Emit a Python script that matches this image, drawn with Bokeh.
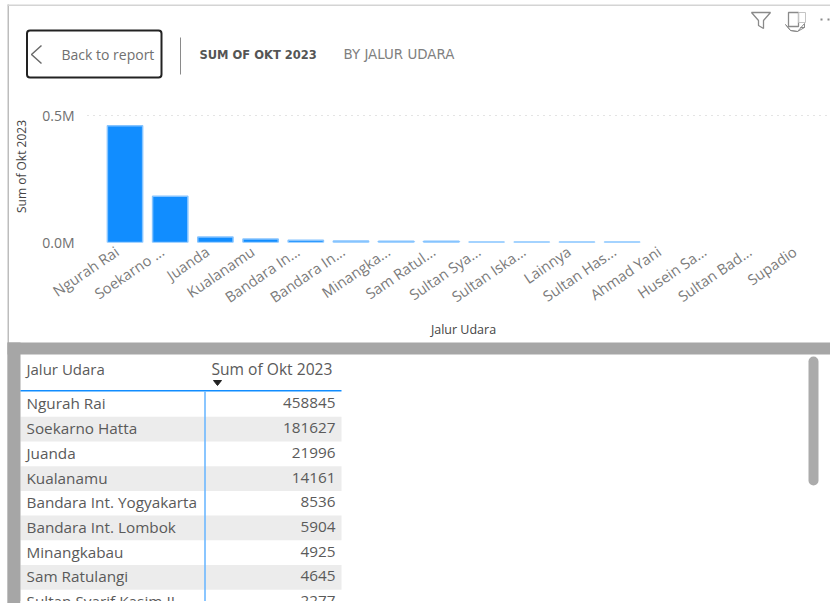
from bokeh.embed import file_html
from bokeh.layouts import column
from bokeh.models import (BoxAnnotation, ColumnDataSource, FixedTicker, Label, PolyAnnotation,
                          Range1d)
from bokeh.core.properties import value
from bokeh.plotting import figure
from bokeh.resources import INLINE

# Airports by October 2023 traffic, largest first
airports = ["Ngurah Rai", "Soekarno Hatta", "Juanda", "Kualanamu", "Bandara Int. Yogyakarta",
            "Bandara Int. Lombok", "Minangkabau", "Sam Ratulangi", "Sultan Syarif Kasim II",
            "Sultan Iskandar Muda", "Lainnya", "Sultan Hasanuddin", "Ahmad Yani",
            "Husein Sastranegara", "Sultan Badaruddin II", "Supadio"]
short_labels = ["Ngurah Rai", "Soekarno ...", "Juanda", "Kualanamu", "Bandara In...", "Bandara In...",
                "Minangka...", "Sam Ratul...", "Sultan Sya...", "Sultan Iska...", "Lainnya",
                "Sultan Has...", "Ahmad Yani", "Husein Sa...", "Sultan Bad...", "Supadio"]
okt_2023 = [458845, 181627, 21996, 14161, 8536, 5904, 4925, 4645, 2277, 2100, 1900, 1700, 0, 0, 0, 0]
table_rows = 9
y_ticks = [0, 500000]
y_tick_labels = {0: "0.0M", 500000: "0.5M"}

BLUE = "#118dff"
BAND = "#a6a6a6"
MUTED = "#707070"
BODY = "Open Sans"
LABEL_SHIFT = 0.18  # rotated category labels sit slightly left of their column


def canvas_label(fig, x, y, text, size, color, font=BODY, style="normal", align="left"):
    fig.add_layout(Label(x=x, y=y, x_units="canvas", y_units="canvas", text=text,
                         text_font=font, text_font_size=size, text_color=color,
                         text_font_style=style, text_align=align, text_baseline="middle"))


def canvas_line(fig, xs, ys, color, width, fill=None):
    fig.add_layout(PolyAnnotation(xs=xs, ys=ys, xs_units="canvas", ys_units="canvas",
                                  fill_color=fill, fill_alpha=1 if fill else 0,
                                  line_color=color, line_alpha=1, line_width=width))


def canvas_box(fig, left, right, top, bottom, fill, line=None, width=1, radius=0):
    fig.add_layout(BoxAnnotation(left=left, right=right, top=top, bottom=bottom,
                                 left_units="canvas", right_units="canvas",
                                 top_units="canvas", bottom_units="canvas",
                                 fill_color=fill, fill_alpha=1, line_color=line, line_alpha=1,
                                 line_width=width, border_radius=radius))


# Report page: header, divider bands and the detail table, with one vertical unit per table row
rows = list(range(table_rows))
sheet = figure(width=830, height=603, output_backend="svg", toolbar_location=None,
               x_range=Range1d(0, 830), y_range=Range1d(8.06, -16.36), frame_align=False,
               min_border=0, outline_line_color=None, background_fill_color="white")
sheet.xaxis.visible = False
sheet.yaxis.visible = False
sheet.grid.visible = False

stripes = [r for r in rows if r % 2 == 1]
sheet.hbar(y=stripes, left=20, right=341, height=1.0, fill_color="#ececec", line_color=None)
sheet.text(x=[26] * table_rows, y=rows, y_offset=-1, text=airports[:table_rows], text_font=value(BODY),
           text_font_size="15.3px", text_color="#5a5a5a", text_baseline="middle")
sheet.text(x=[335] * table_rows, y=rows, y_offset=-1, text=[str(v) for v in okt_2023[:table_rows]],
           text_font=value(BODY), text_font_size="15.3px", text_color="#5a5a5a",
           text_align="right", text_baseline="middle")

# Page frame and bands
canvas_box(sheet, 7, 8.5, 603, 4, "#bdbdbd")
canvas_box(sheet, 7, 830, 5.5, 4, "#d4d4d4")
canvas_box(sheet, 7, 830, 354, 342, BAND)
canvas_box(sheet, 7, 20, 603, 342, BAND)
canvas_box(sheet, 20, 830, 603, 600.5, "white")

# Table header and rules
canvas_label(sheet, 26, 368, "Jalur Udara", "15px", "#5a5a5a")
canvas_label(sheet, 211, 368, "Sum of Okt 2023", "15.6px", "#5a5a5a")
canvas_line(sheet, [213, 221, 217, 213], [380, 380, 385, 380], "#222222", 1, fill="#222222")
canvas_box(sheet, 20, 341, 391, 389.5, BLUE)
canvas_box(sheet, 203.7, 205.3, 600.5, 391, "#6db8ff")
canvas_box(sheet, 808, 818, 485, 356, "#ababab", radius=5)

# Report header
canvas_box(sheet, 26.5, 161, 77, 30, "white", line="#222222", width=2, radius=3)
canvas_line(sheet, [41, 31, 41, 31], [45, 54, 63, 54], "#6a6a6a", 1.5)
canvas_label(sheet, 61, 54, "Back to report", "14px", MUTED)
canvas_box(sheet, 179.5, 180.5, 74, 37, "#8a8a8a")
canvas_label(sheet, 199, 54, "SUM OF OKT 2023", "11.5px", "#555555", font="DejaVu Sans", style="bold")
canvas_label(sheet, 343, 54, "BY JALUR UDARA", "13.4px", "#808080", font="DejaVu Sans")

# Visual header icons
canvas_line(sheet, [751, 770, 763, 763, 758, 758, 751], [12, 12, 20, 28, 25, 20, 12], "#8a8a8a", 1.3)
canvas_line(sheet, [788, 798, 798, 788, 788], [12, 12, 26, 26, 12], "#8a8a8a", 1.3)
canvas_line(sheet, [798, 805, 805, 798], [12, 12, 22, 22], "#c4c4c4", 1.0)
canvas_line(sheet, [785, 790, 797, 804, 800, 804, 804, 797, 790, 785],
            [24, 30, 31, 27, 27, 27, 23, 31, 30, 24], "#8a8a8a", 1.0)
canvas_box(sheet, 820, 822, 20, 18, "#8a8a8a")
canvas_box(sheet, 827, 829, 20, 18, "#8a8a8a")

canvas_label(sheet, 463, 329, "Jalur Udara", "12.5px", "#444444", align="center")

# Column chart layered over the page
chart = figure(width=830, height=343, output_backend="svg", toolbar_location=None,
               x_range=Range1d(-0.83, 15.61), y_range=Range1d(0, 598000), frame_align=False,
               min_border_left=87, min_border_right=0, min_border_top=90, min_border_bottom=101,
               outline_line_color=None, background_fill_alpha=0, border_fill_alpha=0,
               styles={"position": "absolute", "top": "0px", "left": "0px"})
source = ColumnDataSource(dict(x=list(range(len(airports))), top=okt_2023,
                               edge=[1 if v > 0 else 0 for v in okt_2023]))
chart.vbar(x="x", top="top", width=0.78, bottom=0, source=source,
           fill_color=BLUE, line_color="#86c4ff", line_width=1.5, line_alpha="edge")

chart.xgrid.visible = False
chart.ygrid.ticker = FixedTicker(ticks=y_ticks)
chart.ygrid.grid_line_color = "#c8c8c8"
chart.ygrid.grid_line_dash = "1 5"
chart.ygrid.grid_line_width = 1
chart.ygrid.level = "overlay"

chart.yaxis.ticker = FixedTicker(ticks=y_ticks)
chart.yaxis.major_label_overrides = y_tick_labels
chart.yaxis.major_label_text_font = BODY
chart.yaxis.major_label_text_font_size = "14px"
chart.yaxis.major_label_text_color = MUTED
chart.yaxis.major_label_standoff = 7
chart.yaxis.major_tick_line_color = None
chart.yaxis.minor_tick_line_color = None
chart.yaxis.axis_line_color = None
chart.yaxis.axis_label = "Sum of Okt 2023"
chart.yaxis.axis_label_text_font = BODY
chart.yaxis.axis_label_text_font_size = "12px"
chart.yaxis.axis_label_text_font_style = "normal"
chart.yaxis.axis_label_text_color = "#444444"
chart.yaxis.axis_label_standoff = 9

label_ticks = [i - LABEL_SHIFT for i in range(len(short_labels))]
chart.xaxis.ticker = FixedTicker(ticks=label_ticks)
chart.xaxis.major_label_overrides = dict(zip(label_ticks, short_labels))
chart.xaxis.major_label_orientation = 0.6
chart.xaxis.major_label_text_font = BODY
chart.xaxis.major_label_text_font_size = "14.7px"
chart.xaxis.major_label_text_color = "#7a7a7a"
chart.xaxis.major_label_standoff = 1
chart.xaxis.major_tick_line_color = None
chart.xaxis.minor_tick_line_color = None
chart.xaxis.axis_line_color = None

page = column(sheet, chart, spacing=0)
open("out.html", "w").write(file_html(page, INLINE))
